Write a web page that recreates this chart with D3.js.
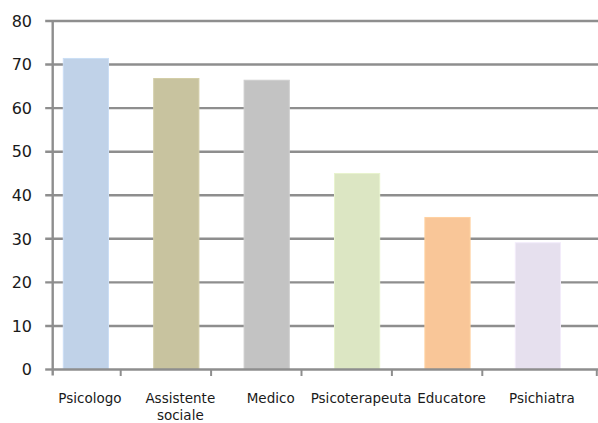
<!DOCTYPE html>
<html><head><meta charset="utf-8">
<script src="https://cdn.jsdelivr.net/npm/d3@7"></script>
<style>html,body{margin:0;padding:0;background:#fff;}svg{display:block;}</style>
</head><body>
<script>
const categories = ["Psicologo", "Assistente\nsociale", "Medico", "Psicoterapeuta", "Educatore", "Psichiatra"];
const values = [71.4, 66.8, 66.4, 45.0, 34.9, 29.1];
const colors = ["#c0d2e8", "#c8c39f", "#c3c3c3", "#dce6c3", "#f9c698", "#e6e0ee"];
const yTicks = [0, 10, 20, 30, 40, 50, 60, 70, 80];

(function () {
const W = 598, H = 423;
const svg = d3.select("body").append("svg").attr("width", W).attr("height", H);

const axisX0 = 52.7, axisY0 = 369.5, plotTop = 21, plotRight = 598;
const y = d3.scaleLinear().domain([0, 80]).range([axisY0, plotTop]);
const x = d3.scaleBand().domain(categories).range([40.7, 583.1]).paddingInner(0.5).paddingOuter(0.25);

const grey = "#8e8e8e";
// gridlines
svg.append("g").selectAll("line").data(yTicks.filter(d => d > 0)).join("line")
  .attr("x1", axisX0 - 7.5).attr("x2", plotRight)
  .attr("y1", d => y(d)).attr("y2", d => y(d))
  .attr("stroke", grey).attr("stroke-width", 2.4);

// bars
svg.append("g").selectAll("rect").data(categories).join("rect")
  .attr("x", d => x(d)).attr("width", x.bandwidth())
  .attr("y", (d, i) => y(values[i])).attr("height", (d, i) => y(0) - y(values[i]))
  .attr("fill", (d, i) => colors[i])
  .attr("stroke", (d, i) => d3.color(colors[i]).brighter(0.15)).attr("stroke-width", 1);

// y axis line & ticks
svg.append("line").attr("x1", axisX0).attr("x2", axisX0).attr("y1", plotTop).attr("y2", axisY0 + 6)
  .attr("stroke", grey).attr("stroke-width", 2.4);
svg.append("line").attr("x1", axisX0 - 7.5).attr("x2", axisX0).attr("y1", y(0)).attr("y2", y(0))
  .attr("stroke", grey).attr("stroke-width", 2.4);
// x axis line
svg.append("line").attr("x1", axisX0).attr("x2", plotRight).attr("y1", y(0)).attr("y2", y(0))
  .attr("stroke", grey).attr("stroke-width", 2.4);
// x ticks (category boundaries)
const tickXs = categories.slice(1).map(c => x(c) - 33).concat([W - 1.2]);
svg.append("g").selectAll("line").data(tickXs).join("line")
  .attr("x1", d => d).attr("x2", d => d).attr("y1", y(0)).attr("y2", y(0) + 6.5)
  .attr("stroke", grey).attr("stroke-width", 2);

// y labels
svg.append("g").selectAll("text").data(yTicks).join("text")
  .attr("x", 32).attr("y", d => y(d)).attr("dy", "0.36em")
  .attr("text-anchor", "end")
  .attr("font-family", "DejaVu Sans").attr("font-size", 16).attr("fill", "#1a1a1a")
  .text(d => d);

// x labels
const lx = d => x(d) + x.bandwidth() / 2 + 4;
const xl = svg.append("g").selectAll("text").data(categories).join("text")
  .attr("x", lx).attr("y", 403)
  .attr("text-anchor", "middle")
  .attr("font-family", "DejaVu Sans").attr("font-size", 13.5).attr("fill", "#1a1a1a");
xl.each(function(d) {
  const parts = d.split("\n");
  const t = d3.select(this);
  parts.forEach((p, i) => {
    t.append("tspan").attr("x", lx(d)).attr("dy", i === 0 ? 0 : 17).text(p);
  });
});
})();
</script>
</body></html>
